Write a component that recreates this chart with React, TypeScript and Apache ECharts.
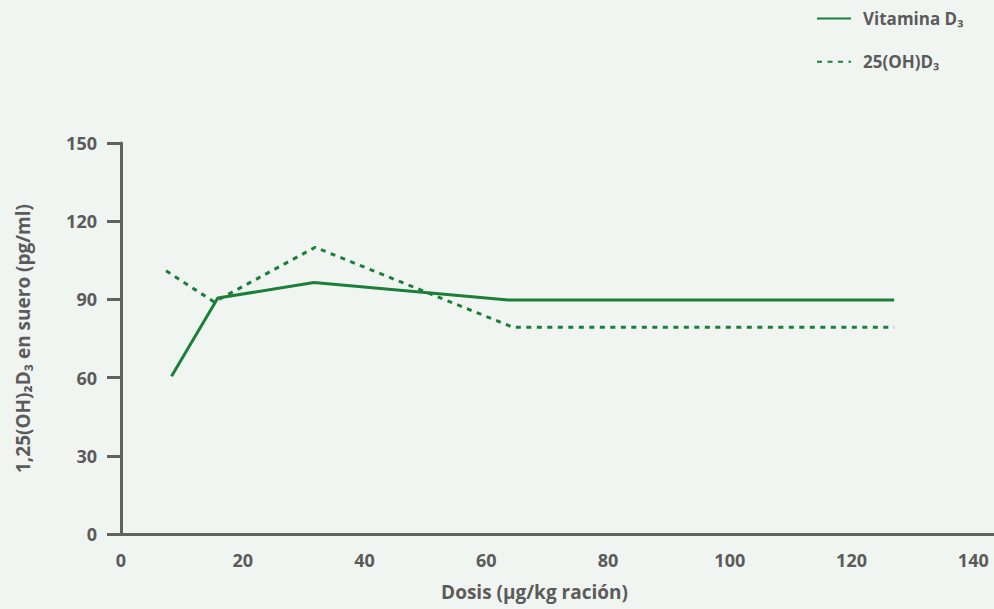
import React, { useEffect, useRef } from "react";
import * as echarts from "echarts";

const dosesVitD3 = [8.3, 15.9, 31.7, 63.6, 127];
const vitaminaD3 = [60.5, 90.5, 96.5, 89.8, 89.8];
const dosesOH = [7.4, 15.3, 31.9, 64.4, 127];
const oh25D3 = [101, 89, 110, 79.3, 79.3];
const seriesNames = ["Vitamina D₃", "25(OH)D₃"];
const xAxisName = "Dosis (µg/kg ración)";
const yAxisName = "1,25(OH)₂D₃ en suero (pg/ml)";

const GREEN = "#1b7f3a";
const GREY = "#5b5b5b";
const AXIS = "#616161";
const FONT = "'Open Sans', 'DejaVu Sans', sans-serif";

export default function App() {
  const ref = useRef<HTMLDivElement>(null);
  useEffect(() => {
    if (!ref.current) return;
    const chart = echarts.init(ref.current, undefined, { renderer: "svg" });
    chart.setOption({
      animation: false,
      backgroundColor: "#f1f5f2",
      textStyle: { fontFamily: FONT },
      legend: {
        orient: "vertical",
        left: 816,
        top: 9,
        padding: 0,
        itemWidth: 34,
        itemHeight: 24,
        itemGap: 24,
        itemStyle: { opacity: 0 },
        textStyle: {
          color: GREY,
          fontSize: 17,
          fontWeight: "bold",
          fontFamily: FONT,
          padding: [0, 0, 0, 7],
        },
        data: seriesNames,
      },
      grid: { left: 121, right: 0, top: 143, bottom: 75, containLabel: false },
      xAxis: {
        type: "value",
        min: 0,
        max: 143.4,
        interval: 20,
        name: xAxisName,
        nameLocation: "middle",
        nameGap: 48,
        nameTextStyle: {
          color: GREY,
          fontSize: 19,
          fontWeight: "bold",
          fontFamily: FONT,
          padding: [0, 46, 0, 0],
        },
        axisLine: { show: true, lineStyle: { color: AXIS, width: 3 } },
        axisTick: { show: false },
        splitLine: { show: false },
        axisLabel: {
          showMaxLabel: false,
          margin: 17,
          color: GREY,
          fontSize: 18,
          fontWeight: "bold",
          fontFamily: FONT,
        },
      },
      yAxis: {
        type: "value",
        min: 0,
        max: 150,
        interval: 30,
        name: yAxisName,
        nameLocation: "middle",
        nameGap: 89,
        nameTextStyle: {
          color: GREY,
          fontSize: 19,
          fontWeight: "bold",
          fontFamily: FONT,
        },
        axisLine: { show: true, lineStyle: { color: AXIS, width: 3 } },
        axisTick: { show: true, length: 14, lineStyle: { color: AXIS, width: 3 } },
        splitLine: { show: false },
        axisLabel: {
          margin: 24,
          color: GREY,
          fontSize: 18,
          fontWeight: "bold",
          fontFamily: FONT,
        },
      },
      series: [
        {
          name: seriesNames[0],
          type: "line",
          data: dosesVitD3.map((d, i) => [d, vitaminaD3[i]]),
          symbol: "none",
          lineStyle: { color: GREEN, width: 3, type: "solid" },
          itemStyle: { color: GREEN },
        },
        {
          name: seriesNames[1],
          type: "line",
          data: dosesOH.map((d, i) => [d, oh25D3[i]]),
          symbol: "none",
          lineStyle: { color: GREEN, width: 3, type: [5, 5.5] },
          itemStyle: { color: GREEN },
        },
      ],
    });
    return () => chart.dispose();
  }, []);
  return (
    <div
      ref={ref}
      style={{ position: "fixed", left: 0, top: 0, width: 994, height: 609 }}
    />
  );
}
